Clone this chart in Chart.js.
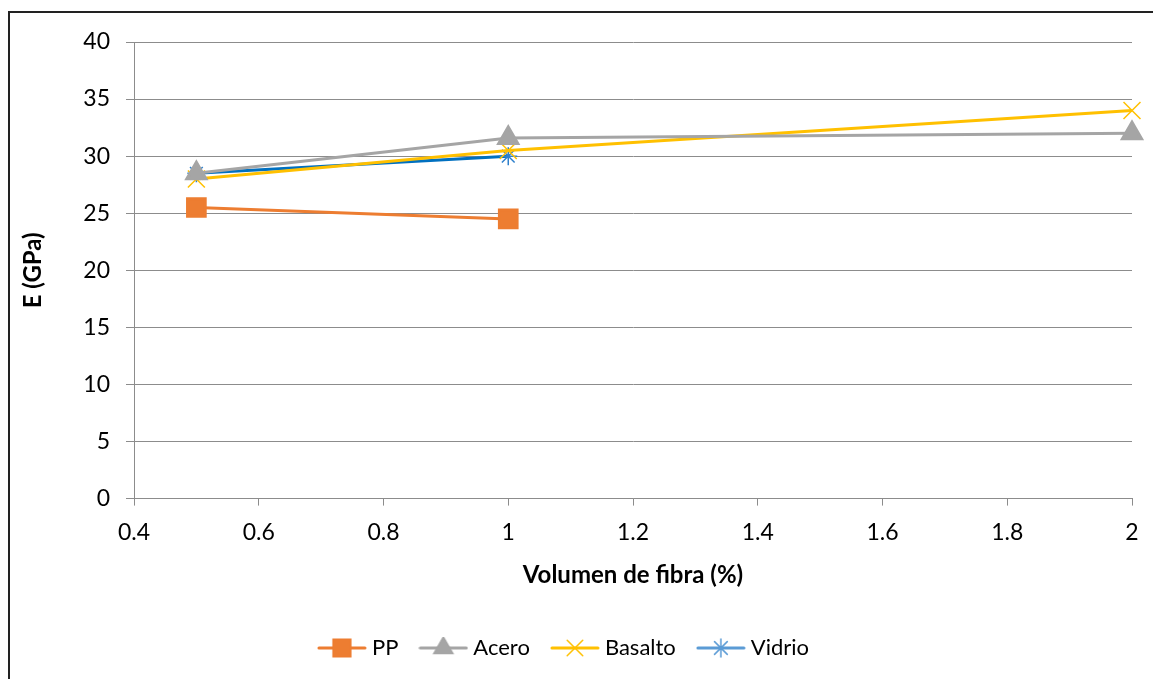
<!DOCTYPE html>
<html>
<head>
<meta charset="utf-8">
<script src="https://cdn.jsdelivr.net/npm/chart.js@4.4.1/dist/chart.umd.min.js"></script>
<style>
  html, body { margin: 0; padding: 0; background: #fff; }
  #wrap { position: relative; width: 1153px; height: 679px; overflow: hidden; }
  #frame { position: absolute; left: 8px; top: 11px; width: 1200px; height: 700px;
           border-left: 2px solid #222; border-top: 2px solid #222; pointer-events: none; }
</style>
</head>
<body>
<div id="wrap">
  <canvas id="modChart" width="1153" height="679"></canvas>
  <div id="frame"></div>
</div>
<script>
const seriesNames = ["PP", "Acero", "Basalto", "Vidrio"];
const ppX = [0.5, 1];
const ppY = [25.5, 24.5];
const aceroX = [0.5, 1, 2];
const aceroY = [28.5, 31.6, 32];
const basaltoX = [0.5, 1, 2];
const basaltoY = [28, 30.5, 34];
const vidrioX = [0.5, 1];
const vidrioY = [28.5, 30];

const xTitle = "Volumen de fibra (%)";
const yTitle = "E (GPa)";

const gridColor = "#8c8c8c";
const font = "Lato";

function pts(xs, ys) {
  return xs.map((x, i) => ({ x: x, y: ys[i] }));
}

// little legend swatch: line with the marker on it
function swatch(color, style, r) {
  const c = document.createElement("canvas");
  c.width = 50;
  c.height = 22;
  const g = c.getContext("2d");
  g.strokeStyle = color;
  g.fillStyle = color;
  g.lineWidth = 3;
  g.lineCap = "round";
  g.beginPath();
  g.moveTo(2, 11);
  g.lineTo(48, 11);
  g.stroke();
  g.lineWidth = 1.5;
  Chart.helpers.drawPoint(g, { pointStyle: style, radius: r, borderWidth: 1.5 }, 25, 11);
  if (style === "rect" || style === "triangle") g.fill();
  return c;
}

const datasets = [
  { label: seriesNames[0], data: pts(ppX, ppY), borderColor: "#ED7D31", backgroundColor: "#ED7D31",
    pointStyle: "rect", pointRadius: 12.5, legendColor: "#ED7D31" },
  { label: seriesNames[1], data: pts(aceroX, aceroY), borderColor: "#A5A5A5", backgroundColor: "#A5A5A5",
    pointStyle: "triangle", pointRadius: 11, legendColor: "#A5A5A5" },
  { label: seriesNames[2], data: pts(basaltoX, basaltoY), borderColor: "#FFC000", backgroundColor: "#FFC000",
    pointStyle: "crossRot", pointRadius: 12, pointBorderWidth: 1.5, legendColor: "#FFC000" },
  { label: seriesNames[3], data: pts(vidrioX, vidrioY), borderColor: "#0070C0", backgroundColor: "#2E75B6",
    pointBorderColor: "#2E80CC", pointStyle: "star", pointRadius: 9, pointBorderWidth: 1.5, legendColor: "#5B9BD5" }
];
datasets.forEach(d => {
  d.borderWidth = 3;
  d.showLine = true;
  d.tension = 0;
  d.clip = false;
  d.pointHoverRadius = d.pointRadius;
});

const ctx = document.getElementById("modChart");
const chart = new Chart(ctx, {
  type: "scatter",
  data: { datasets: datasets },
  options: {
    responsive: false,
    animation: false,
    layout: { padding: { left: 0, right: 21, top: 42, bottom: 10 } },
    scales: {
      x: {
        type: "linear",
        min: 0.4,
        max: 2,
        ticks: { stepSize: 0.2, color: "#000", padding: 13, font: { family: font, size: 23 },
                 callback: v => String(Math.round(v * 10) / 10) },
        grid: { drawOnChartArea: false, drawTicks: true, tickLength: 7, color: gridColor, lineWidth: 1 },
        border: { display: true, color: gridColor, width: 1 },
        title: { display: true, text: xTitle, color: "#000", padding: { top: 2, bottom: 21 },
                 font: { family: font, size: 24, weight: "bold" } }
      },
      y: {
        min: 0,
        max: 40,
        afterFit: s => { s.width = 134; },
        ticks: { stepSize: 5, color: "#000", padding: 16, font: { family: font, size: 23 } },
        grid: { color: gridColor, lineWidth: 1, tickLength: 8 },
        border: { display: true, color: gridColor, width: 1 },
        title: { display: true, text: yTitle, color: "#000", padding: { top: 19, bottom: 0 },
                 font: { family: font, size: 24, weight: "bold" } }
      }
    },
    plugins: {
      tooltip: { enabled: false },
      legend: {
        position: "bottom",
        labels: {
          usePointStyle: true,
          pointStyleWidth: 38, // narrower than the swatch so the text sits close to it
          boxHeight: 22,
          padding: 26,
          color: "#000",
          font: { family: font, size: 22 },
          generateLabels: ch => ch.data.datasets.map((d, i) => ({
            text: d.label,
            datasetIndex: i,
            pointStyle: swatch(d.legendColor, d.pointStyle, d.pointStyle === "rect" ? 12.5 : (d.pointStyle === "star" ? 9 : 11)),
            fontColor: "#000",
            lineWidth: 0,
            strokeStyle: d.legendColor,
            fillStyle: d.legendColor
          }))
        }
      }
    }
  }
});
</script>
</body>
</html>
